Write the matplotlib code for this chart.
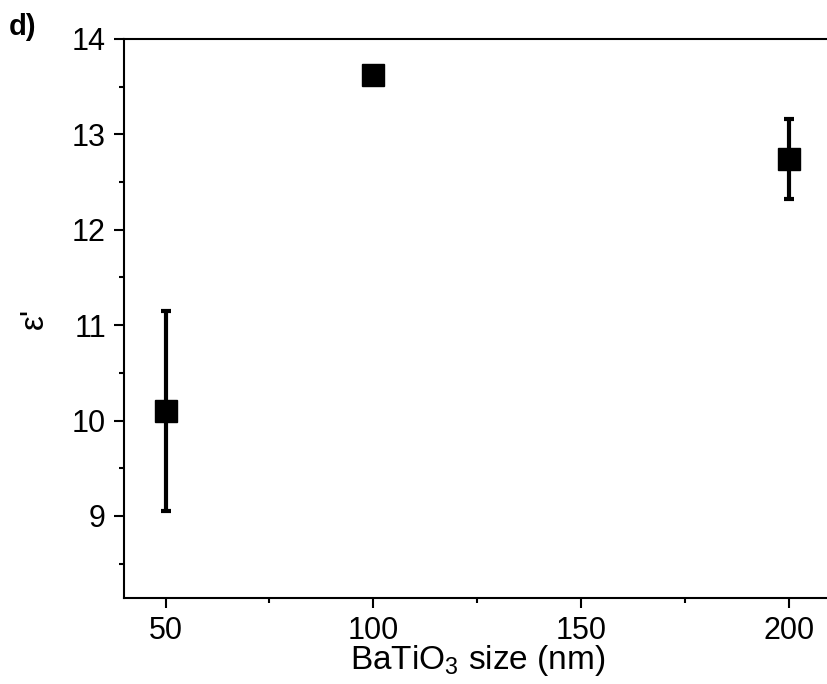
import matplotlib.pyplot as plt
from matplotlib.ticker import MultipleLocator

size_nm = [50, 100, 200]
eps_real = [10.1, 13.62, 12.74]
eps_err = [1.05, 0.07, 0.42]

plt.rcParams['font.family'] = ['Liberation Sans', 'DejaVu Sans']
plt.rcParams['mathtext.fontset'] = 'custom'
plt.rcParams['mathtext.rm'] = 'Liberation Sans'

fig = plt.figure(figsize=(8.28, 6.84), dpi=100)
# axes run slightly past the right edge, like the cropped original
ax = fig.add_axes([124 / 828, 1 - 598 / 684, (830.6 - 124) / 828, (598 - 39) / 684])

ax.errorbar(size_nm, eps_real, yerr=eps_err, fmt='s', color='black',
            markersize=16, elinewidth=3, capsize=3.8, capthick=3)

ax.set_xlim(40, 210)
ax.set_ylim(8.14, 14)
ax.set_xticks([50, 100, 150, 200])
ax.xaxis.set_minor_locator(MultipleLocator(25))
ax.yaxis.set_major_locator(MultipleLocator(1))
ax.yaxis.set_minor_locator(MultipleLocator(0.5))

ax.tick_params(which='major', direction='out', length=7, width=1.5,
               labelsize=22, pad=6)
ax.tick_params(which='minor', direction='out', length=3.5, width=1.5)
ax.tick_params(top=False, right=False, which='both')
for sp in ax.spines.values():
    sp.set_linewidth(1.5)

ax.set_xlabel(r"BaTiO$_\mathregular{3}$ size (nm)", fontsize=24, labelpad=-2)
ax.set_ylabel("ε'", fontsize=24, labelpad=16)

fig.text(9 / 828, 1 - 27 / 684, "d)", fontsize=21, fontweight='bold', va='center')

fig.savefig("out.png", dpi=100)
